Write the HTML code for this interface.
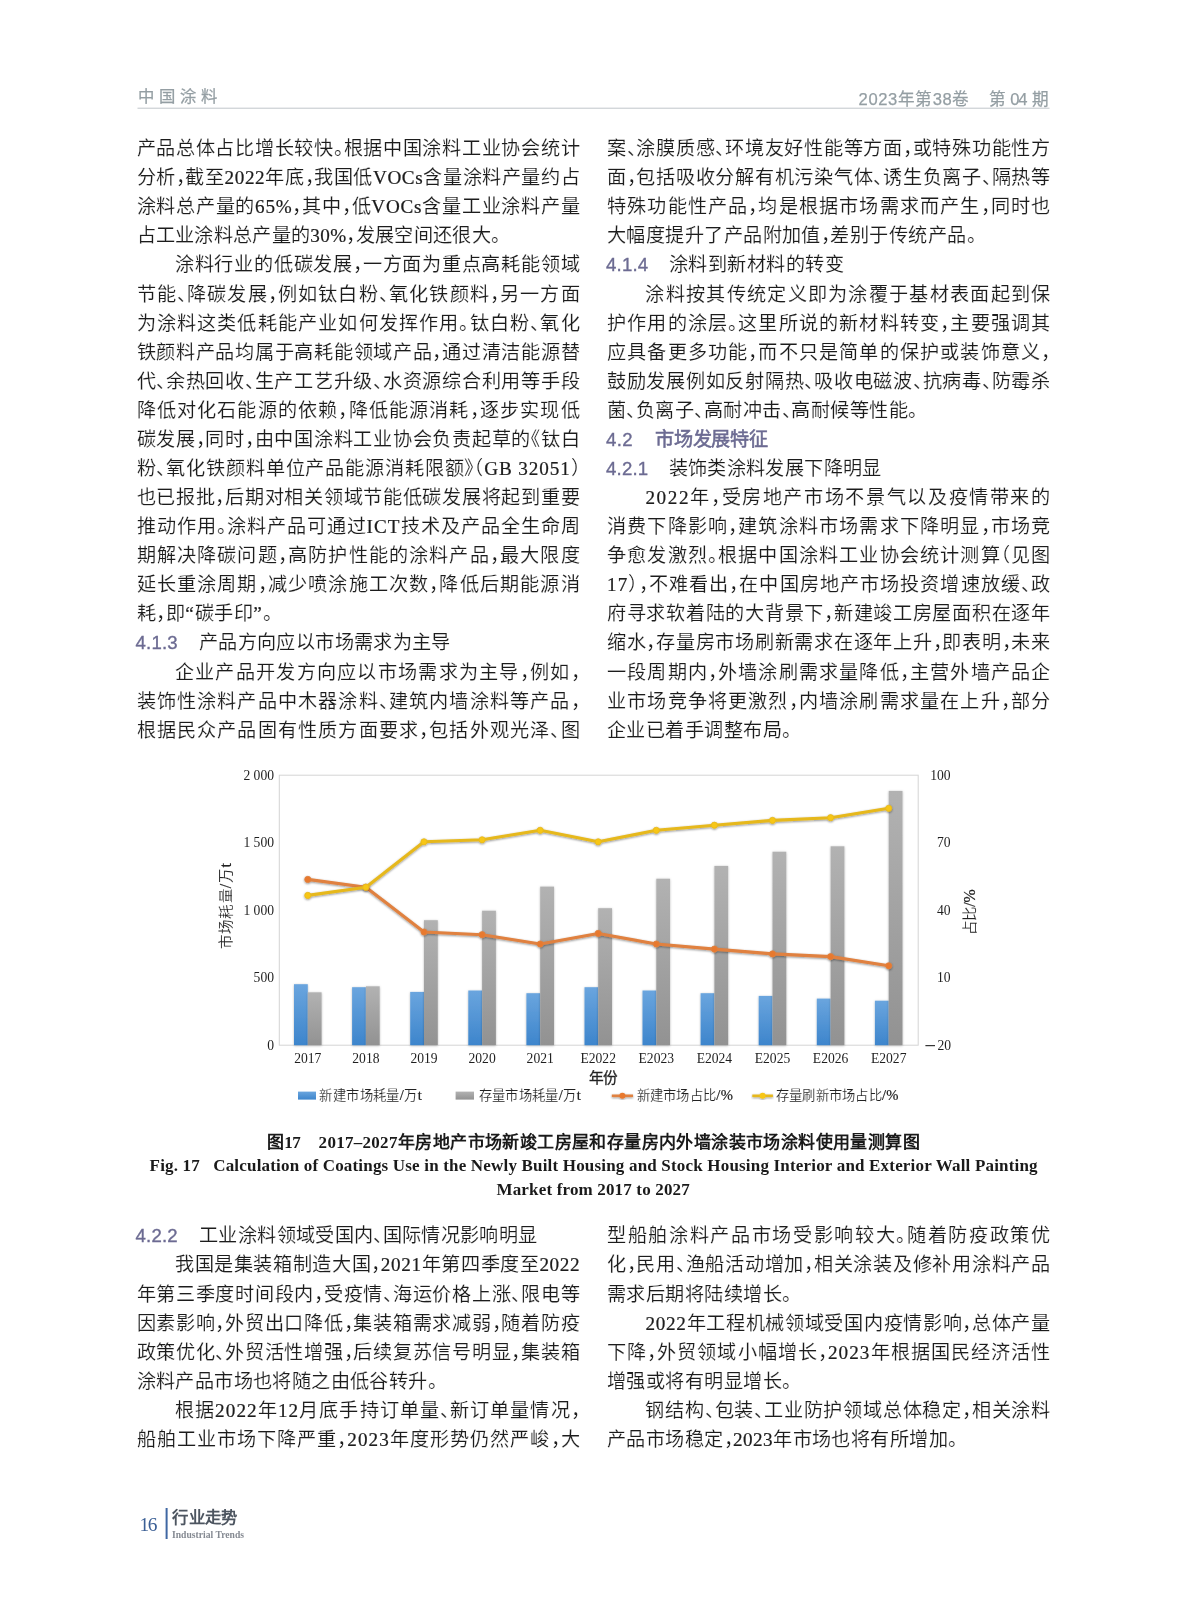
<!DOCTYPE html>
<html lang="zh-CN">
<head>
<meta charset="utf-8">
<title>中国涂料 2023年第38卷 第04期</title>
<style>
html,body{margin:0;padding:0;background:#fff;}
body{width:1187px;height:1600px;overflow:hidden;font-family:"Liberation Sans",sans-serif;}
.page{width:1187px;height:1600px;will-change:transform;}
svg{display:block;}
text{font-family:"Liberation Sans",sans-serif;fill:#1c1c1c;}
.b{font-size:19.17px;font-feature-settings:"halt";stroke:#fff;stroke-width:0.14px;}
.l{font-family:"Liberation Serif",serif;stroke:#1c1c1c;stroke-width:0.22px;}
.tc .l{font-size:1.1em;}
.hb{font-size:19.17px;font-family:"Liberation Sans",sans-serif;fill:#6c6b92;stroke:#6c6b92;stroke-width:0.55px;}
.hn{font-size:18.6px;font-family:"Liberation Sans",sans-serif;fill:#6c6b92;stroke:#6c6b92;stroke-width:0.35px;}
.t{font-family:"Liberation Serif",serif;font-size:13.6px;fill:#1e1e1e;}
.tc{font-size:13.3px;fill:#222;stroke:#fff;stroke-width:0.15px;}
.c1{font-size:17px;font-family:"Liberation Sans",sans-serif;font-weight:bold;fill:#1a1a1a;}
.c2{font-family:"Liberation Serif",serif;font-size:17px;font-weight:bold;fill:#1a1a1a;}
.hd{font-family:"Liberation Sans",sans-serif;fill:#949ea3;stroke:#949ea3;stroke-width:0.25px;}
</style>
</head>
<body>
<div class="page">
<svg width="1187" height="1600" viewBox="0 0 1187 1600">
<defs>
<linearGradient id="gb" x1="0" y1="0" x2="0" y2="1"><stop offset="0" stop-color="#6aa5de"/><stop offset="1" stop-color="#3d85cc"/></linearGradient>
<linearGradient id="gg" x1="0" y1="0" x2="0" y2="1"><stop offset="0" stop-color="#b2b2b2"/><stop offset="1" stop-color="#929292"/></linearGradient>
<filter id="sh" x="-30%" y="-5%" width="160%" height="110%"><feDropShadow dx="0" dy="0.6" stdDeviation="0.9" flood-color="#000" flood-opacity="0.28"/></filter>
<filter id="sh2" x="-5%" y="-20%" width="110%" height="140%"><feDropShadow dx="0" dy="0.9" stdDeviation="0.9" flood-color="#000" flood-opacity="0.45"/></filter>
</defs>
<!-- running header -->
<text class="hd" x="137.9" y="101.8" style="font-size:16.4px" textLength="78.8">中国涂料</text>
<text class="hd" x="858.6" y="104.7" style="font-size:16.6px" textLength="110.8">2023年第38卷</text>
<text class="hd" x="989.2" y="104.7" style="font-size:16.6px">第</text>
<text class="hd" x="1010.2" y="104.7" style="font-size:16.6px" textLength="17.2">04</text>
<text class="hd" x="1032.2" y="104.7" style="font-size:16.6px">期</text>
<rect x="137.5" y="107.6" width="912" height="1.3" fill="#cfd3d6"/>
<!-- body text -->
<text class="b" x="136.5" y="155.1" textLength="443.1">产品总体占比增长较快。根据中国涂料工业协会统计</text>
<text class="b" x="136.5" y="184.2" textLength="443.1">分析，截至<tspan class="l">2022</tspan>年底，我国低<tspan class="l">VOCs</tspan>含量涂料产量约占</text>
<text class="b" x="136.5" y="213.3" textLength="443.1">涂料总产量的<tspan class="l">65%</tspan>，其中，低<tspan class="l">VOCs</tspan>含量工业涂料产量</text>
<text class="b" x="136.5" y="242.3" textLength="363.5">占工业涂料总产量的<tspan class="l">30%</tspan>，发展空间还很大。</text>
<text class="b" x="174.9" y="271.4" textLength="404.7">涂料行业的低碳发展，一方面为重点高耗能领域</text>
<text class="b" x="136.5" y="300.5" textLength="443.1">节能、降碳发展，例如钛白粉、氧化铁颜料，另一方面</text>
<text class="b" x="136.5" y="329.6" textLength="443.1">为涂料这类低耗能产业如何发挥作用。钛白粉、氧化</text>
<text class="b" x="136.5" y="358.6" textLength="443.1">铁颜料产品均属于高耗能领域产品，通过清洁能源替</text>
<text class="b" x="136.5" y="387.7" textLength="443.1">代、余热回收、生产工艺升级、水资源综合利用等手段</text>
<text class="b" x="136.5" y="416.8" textLength="443.1">降低对化石能源的依赖，降低能源消耗，逐步实现低</text>
<text class="b" x="136.5" y="445.9" textLength="443.1">碳发展，同时，由中国涂料工业协会负责起草的《钛白</text>
<text class="b" x="136.5" y="474.9" textLength="443.1">粉、氧化铁颜料单位产品能源消耗限额》（<tspan class="l">GB 32051</tspan>）</text>
<text class="b" x="136.5" y="504.0" textLength="443.1">也已报批，后期对相关领域节能低碳发展将起到重要</text>
<text class="b" x="136.5" y="533.1" textLength="443.1">推动作用。涂料产品可通过<tspan class="l">ICT</tspan>技术及产品全生命周</text>
<text class="b" x="136.5" y="562.1" textLength="443.1">期解决降碳问题，高防护性能的涂料产品，最大限度</text>
<text class="b" x="136.5" y="591.2" textLength="443.1">延长重涂周期，减少喷涂施工次数，降低后期能源消</text>
<text class="b" x="136.5" y="620.3" textLength="135.0">耗，即<tspan class="l">“</tspan>碳手印<tspan class="l">”</tspan>。</text>
<text class="hn" x="135.6" y="649.1" textLength="42.0">4.1.3</text>
<text class="b" x="198.9" y="649.4" textLength="251.5">产品方向应以市场需求为主导</text>
<text class="b" x="174.9" y="678.5" textLength="404.7">企业产品开发方向应以市场需求为主导，例如，</text>
<text class="b" x="136.5" y="707.5" textLength="443.1">装饰性涂料产品中木器涂料、建筑内墙涂料等产品，</text>
<text class="b" x="136.5" y="736.6" textLength="443.1">根据民众产品固有性质方面要求，包括外观光泽、图</text>
<text class="b" x="607.0" y="155.1" textLength="443.1">案、涂膜质感、环境友好性能等方面，或特殊功能性方</text>
<text class="b" x="607.0" y="184.2" textLength="443.1">面，包括吸收分解有机污染气体、诱生负离子、隔热等</text>
<text class="b" x="607.0" y="213.3" textLength="443.1">特殊功能性产品，均是根据市场需求而产生，同时也</text>
<text class="b" x="607.0" y="242.3" textLength="368.5">大幅度提升了产品附加值，差别于传统产品。</text>
<text class="hn" x="606.1" y="271.1" textLength="42.0">4.1.4</text>
<text class="b" x="668.5" y="271.4" textLength="175.5">涂料到新材料的转变</text>
<text class="b" x="645.4" y="300.5" textLength="404.7">涂料按其传统定义即为涂覆于基材表面起到保</text>
<text class="b" x="607.0" y="329.6" textLength="443.1">护作用的涂层。这里所说的新材料转变，主要强调其</text>
<text class="b" x="607.0" y="358.6" textLength="443.1">应具备更多功能，而不只是简单的保护或装饰意义，</text>
<text class="b" x="607.0" y="387.7" textLength="443.1">鼓励发展例如反射隔热、吸收电磁波、抗病毒、防霉杀</text>
<text class="b" x="607.0" y="416.8" textLength="310.0">菌、负离子、高耐冲击、高耐候等性能。</text>
<text class="hn" x="606.1" y="445.6" textLength="26.4">4.2</text>
<text class="hb" x="654.6" y="445.9" textLength="113.8">市场发展特征</text>
<text class="hn" x="606.1" y="474.6" textLength="42.0">4.2.1</text>
<text class="b" x="668.5" y="474.9" textLength="212.8">装饰类涂料发展下降明显</text>
<text class="b" x="645.4" y="504.0" textLength="404.7"><tspan class="l">2022</tspan>年，受房地产市场不景气以及疫情带来的</text>
<text class="b" x="607.0" y="533.1" textLength="443.1">消费下降影响，建筑涂料市场需求下降明显，市场竞</text>
<text class="b" x="607.0" y="562.1" textLength="443.1">争愈发激烈。根据中国涂料工业协会统计测算（见图</text>
<text class="b" x="607.0" y="591.2" textLength="443.1"><tspan class="l">17</tspan>），不难看出，在中国房地产市场投资增速放缓、政</text>
<text class="b" x="607.0" y="620.3" textLength="443.1">府寻求软着陆的大背景下，新建竣工房屋面积在逐年</text>
<text class="b" x="607.0" y="649.4" textLength="443.1">缩水，存量房市场刷新需求在逐年上升，即表明，未来</text>
<text class="b" x="607.0" y="678.5" textLength="443.1">一段周期内，外墙涂刷需求量降低，主营外墙产品企</text>
<text class="b" x="607.0" y="707.5" textLength="443.1">业市场竞争将更激烈，内墙涂刷需求量在上升，部分</text>
<text class="b" x="607.0" y="736.6" textLength="184.0">企业已着手调整布局。</text>
<text class="hn" x="135.6" y="1242.0" textLength="42.0">4.2.2</text>
<text class="b" x="199.1" y="1242.3" textLength="338.0">工业涂料领域受国内、国际情况影响明显</text>
<text class="b" x="174.9" y="1271.4" textLength="404.7">我国是集装箱制造大国，<tspan class="l">2021</tspan>年第四季度至<tspan class="l">2022</tspan></text>
<text class="b" x="136.5" y="1300.5" textLength="443.1">年第三季度时间段内，受疫情、海运价格上涨、限电等</text>
<text class="b" x="136.5" y="1329.5" textLength="443.1">因素影响，外贸出口降低，集装箱需求减弱，随着防疫</text>
<text class="b" x="136.5" y="1358.6" textLength="443.1">政策优化、外贸活性增强，后续复苏信号明显，集装箱</text>
<text class="b" x="136.5" y="1387.7" textLength="300.0">涂料产品市场也将随之由低谷转升。</text>
<text class="b" x="174.9" y="1416.8" textLength="404.7">根据<tspan class="l">2022</tspan>年<tspan class="l">12</tspan>月底手持订单量、新订单量情况，</text>
<text class="b" x="136.5" y="1445.8" textLength="443.1">船舶工业市场下降严重，<tspan class="l">2023</tspan>年度形势仍然严峻，大</text>
<text class="b" x="607.0" y="1242.3" textLength="443.1">型船舶涂料产品市场受影响较大。随着防疫政策优</text>
<text class="b" x="607.0" y="1271.4" textLength="443.1">化，民用、渔船活动增加，相关涂装及修补用涂料产品</text>
<text class="b" x="607.0" y="1300.5" textLength="184.0">需求后期将陆续增长。</text>
<text class="b" x="645.4" y="1329.5" textLength="404.7"><tspan class="l">2022</tspan>年工程机械领域受国内疫情影响，总体产量</text>
<text class="b" x="607.0" y="1358.6" textLength="443.1">下降，外贸领域小幅增长，<tspan class="l">2023</tspan>年根据国民经济活性</text>
<text class="b" x="607.0" y="1387.7" textLength="184.0">增强或将有明显增长。</text>
<text class="b" x="645.4" y="1416.8" textLength="404.7">钢结构、包装、工业防护领域总体稳定，相关涂料</text>
<text class="b" x="607.0" y="1445.8" textLength="350.0">产品市场稳定，<tspan class="l">2023</tspan>年市场也将有所增加。</text>
<!-- chart -->
<rect x="279.3" y="775.2" width="638.9" height="270.0" fill="none" stroke="#d4d4d4" stroke-width="1"/>
<rect x="294.0" y="984.2" width="13.8" height="61.0" fill="url(#gb)" filter="url(#sh)"/>
<rect x="307.8" y="992.3" width="13.8" height="52.9" fill="url(#gg)" filter="url(#sh)"/>
<rect x="352.1" y="987.2" width="13.8" height="58.0" fill="url(#gb)" filter="url(#sh)"/>
<rect x="365.9" y="986.3" width="13.8" height="58.9" fill="url(#gg)" filter="url(#sh)"/>
<rect x="410.2" y="991.9" width="13.8" height="53.3" fill="url(#gb)" filter="url(#sh)"/>
<rect x="424.0" y="920.2" width="13.8" height="125.0" fill="url(#gg)" filter="url(#sh)"/>
<rect x="468.3" y="990.5" width="13.8" height="54.7" fill="url(#gb)" filter="url(#sh)"/>
<rect x="482.1" y="910.7" width="13.8" height="134.5" fill="url(#gg)" filter="url(#sh)"/>
<rect x="526.4" y="993.2" width="13.8" height="52.0" fill="url(#gb)" filter="url(#sh)"/>
<rect x="540.2" y="886.6" width="13.8" height="158.6" fill="url(#gg)" filter="url(#sh)"/>
<rect x="584.5" y="987.2" width="13.8" height="58.0" fill="url(#gb)" filter="url(#sh)"/>
<rect x="598.2" y="908.2" width="13.8" height="137.0" fill="url(#gg)" filter="url(#sh)"/>
<rect x="642.5" y="990.5" width="13.8" height="54.7" fill="url(#gb)" filter="url(#sh)"/>
<rect x="656.3" y="878.7" width="13.8" height="166.5" fill="url(#gg)" filter="url(#sh)"/>
<rect x="700.6" y="993.2" width="13.8" height="52.0" fill="url(#gb)" filter="url(#sh)"/>
<rect x="714.4" y="865.9" width="13.8" height="179.3" fill="url(#gg)" filter="url(#sh)"/>
<rect x="758.7" y="995.9" width="13.8" height="49.3" fill="url(#gb)" filter="url(#sh)"/>
<rect x="772.5" y="851.7" width="13.8" height="193.5" fill="url(#gg)" filter="url(#sh)"/>
<rect x="816.8" y="998.6" width="13.8" height="46.6" fill="url(#gb)" filter="url(#sh)"/>
<rect x="830.6" y="846.3" width="13.8" height="198.9" fill="url(#gg)" filter="url(#sh)"/>
<rect x="874.9" y="1000.7" width="13.8" height="44.5" fill="url(#gb)" filter="url(#sh)"/>
<rect x="888.7" y="790.9" width="13.8" height="254.3" fill="url(#gg)" filter="url(#sh)"/>
<g filter="url(#sh2)"><polyline points="307.8,879.4 365.9,887.2 424.0,932.0 482.1,934.7 540.2,944.0 598.2,933.4 656.3,944.0 714.4,949.1 772.5,953.9 830.6,956.6 888.7,965.8" fill="none" stroke="#e0813f" stroke-width="3.1" stroke-linejoin="round" stroke-linecap="round"/><circle cx="307.8" cy="879.4" r="3.1" fill="#e8792e" stroke="#e0813f" stroke-width="0.8"/><circle cx="365.9" cy="887.2" r="3.1" fill="#e8792e" stroke="#e0813f" stroke-width="0.8"/><circle cx="424.0" cy="932.0" r="3.1" fill="#e8792e" stroke="#e0813f" stroke-width="0.8"/><circle cx="482.1" cy="934.7" r="3.1" fill="#e8792e" stroke="#e0813f" stroke-width="0.8"/><circle cx="540.2" cy="944.0" r="3.1" fill="#e8792e" stroke="#e0813f" stroke-width="0.8"/><circle cx="598.2" cy="933.4" r="3.1" fill="#e8792e" stroke="#e0813f" stroke-width="0.8"/><circle cx="656.3" cy="944.0" r="3.1" fill="#e8792e" stroke="#e0813f" stroke-width="0.8"/><circle cx="714.4" cy="949.1" r="3.1" fill="#e8792e" stroke="#e0813f" stroke-width="0.8"/><circle cx="772.5" cy="953.9" r="3.1" fill="#e8792e" stroke="#e0813f" stroke-width="0.8"/><circle cx="830.6" cy="956.6" r="3.1" fill="#e8792e" stroke="#e0813f" stroke-width="0.8"/><circle cx="888.7" cy="965.8" r="3.1" fill="#e8792e" stroke="#e0813f" stroke-width="0.8"/></g>
<g filter="url(#sh2)"><polyline points="307.8,895.4 365.9,887.2 424.0,841.8 482.1,839.8 540.2,830.3 598.2,841.8 656.3,830.3 714.4,825.2 772.5,820.4 830.6,817.7 888.7,808.3" fill="none" stroke="#e6b81f" stroke-width="3.1" stroke-linejoin="round" stroke-linecap="round"/><circle cx="307.8" cy="895.4" r="3.1" fill="#f7c613" stroke="#e6b81f" stroke-width="0.8"/><circle cx="365.9" cy="887.2" r="3.1" fill="#f7c613" stroke="#e6b81f" stroke-width="0.8"/><circle cx="424.0" cy="841.8" r="3.1" fill="#f7c613" stroke="#e6b81f" stroke-width="0.8"/><circle cx="482.1" cy="839.8" r="3.1" fill="#f7c613" stroke="#e6b81f" stroke-width="0.8"/><circle cx="540.2" cy="830.3" r="3.1" fill="#f7c613" stroke="#e6b81f" stroke-width="0.8"/><circle cx="598.2" cy="841.8" r="3.1" fill="#f7c613" stroke="#e6b81f" stroke-width="0.8"/><circle cx="656.3" cy="830.3" r="3.1" fill="#f7c613" stroke="#e6b81f" stroke-width="0.8"/><circle cx="714.4" cy="825.2" r="3.1" fill="#f7c613" stroke="#e6b81f" stroke-width="0.8"/><circle cx="772.5" cy="820.4" r="3.1" fill="#f7c613" stroke="#e6b81f" stroke-width="0.8"/><circle cx="830.6" cy="817.7" r="3.1" fill="#f7c613" stroke="#e6b81f" stroke-width="0.8"/><circle cx="888.7" cy="808.3" r="3.1" fill="#f7c613" stroke="#e6b81f" stroke-width="0.8"/></g>
<text class="t" x="274" y="779.8" text-anchor="end">2 000</text>
<text class="t" x="274" y="847.3" text-anchor="end">1 500</text>
<text class="t" x="274" y="914.8" text-anchor="end">1 000</text>
<text class="t" x="274" y="982.3" text-anchor="end">500</text>
<text class="t" x="274" y="1049.8" text-anchor="end">0</text>
<text class="t" x="950.6" y="779.8" text-anchor="end">100</text>
<text class="t" x="950.6" y="847.3" text-anchor="end">70</text>
<text class="t" x="950.6" y="914.8" text-anchor="end">40</text>
<text class="t" x="950.6" y="982.3" text-anchor="end">10</text>
<rect x="925.4" y="1045.1" width="9.6" height="1.1" fill="#222"/><text class="t" x="951" y="1049.8" text-anchor="end">20</text>
<text class="t" x="307.8" y="1062.8" text-anchor="middle">2017</text>
<text class="t" x="365.9" y="1062.8" text-anchor="middle">2018</text>
<text class="t" x="424.0" y="1062.8" text-anchor="middle">2019</text>
<text class="t" x="482.1" y="1062.8" text-anchor="middle">2020</text>
<text class="t" x="540.2" y="1062.8" text-anchor="middle">2021</text>
<text class="t" x="598.2" y="1062.8" text-anchor="middle">E2022</text>
<text class="t" x="656.3" y="1062.8" text-anchor="middle">E2023</text>
<text class="t" x="714.4" y="1062.8" text-anchor="middle">E2024</text>
<text class="t" x="772.5" y="1062.8" text-anchor="middle">E2025</text>
<text class="t" x="830.6" y="1062.8" text-anchor="middle">E2026</text>
<text class="t" x="888.7" y="1062.8" text-anchor="middle">E2027</text>
<text class="tc" style="font-size:14.7px;stroke:#222;stroke-width:0.3px" x="603.5" y="1083" text-anchor="middle" textLength="29.4">年份</text>
<text class="tc" style="font-size:14.5px" transform="translate(230.5,906) rotate(-90)" text-anchor="middle" textLength="85.7">市场耗量<tspan class="l">/</tspan>万<tspan class="l">t</tspan></text>
<text class="tc" style="font-size:14.5px" transform="translate(975.3,912) rotate(-90)" text-anchor="middle" textLength="45.8">占比<tspan class="l">/%</tspan></text>
<rect x="298" y="1091.6" width="18" height="8" fill="url(#gb)"/>
<text class="tc" x="319.3" y="1100.4" textLength="102.5">新建市场耗量<tspan class="l">/</tspan>万<tspan class="l">t</tspan></text>
<rect x="455.6" y="1091.6" width="18.4" height="8" fill="url(#gg)"/>
<text class="tc" x="478.5" y="1100.4" textLength="102.3">存量市场耗量<tspan class="l">/</tspan>万<tspan class="l">t</tspan></text>
<g filter="url(#sh2)"><line x1="611.8" y1="1095.8" x2="633" y2="1095.8" stroke="#e0813f" stroke-width="2.6"/><circle cx="622.4" cy="1095.8" r="3" fill="#e8792e"/></g>
<text class="tc" x="636.6" y="1100.4" textLength="96.3">新建市场占比<tspan class="l">/%</tspan></text>
<g filter="url(#sh2)"><line x1="752.3" y1="1095.8" x2="772.9" y2="1095.8" stroke="#e6b81f" stroke-width="2.6"/><circle cx="762.6" cy="1095.8" r="3" fill="#f7c613"/></g>
<text class="tc" x="775.7" y="1100.4" textLength="122.8">存量刷新市场占比<tspan class="l">/%</tspan></text>
<!-- caption -->
<text class="c1" x="267.1" y="1147.6">图</text>
<text class="c2" x="284.2" y="1147.6" textLength="16.6">17</text>
<text class="c2" x="318.6" y="1147.6" textLength="78.8">2017–2027</text>
<text class="c1" x="397.9" y="1147.6" textLength="521.6">年房地产市场新竣工房屋和存量房内外墙涂装市场涂料使用量测算图</text>
<text class="c2" x="149.6" y="1171.2" textLength="888" xml:space="preserve">Fig. 17   Calculation of Coatings Use in the Newly Built Housing and Stock Housing Interior and Exterior Wall Painting</text>
<text class="c2" x="496.5" y="1194.6" textLength="193.2">Market from 2017 to 2027</text>
<!-- footer -->
<text x="139.6" y="1531.2" style="font-family:'Liberation Serif',serif;font-size:19.4px;fill:#3b5f95" textLength="17.8">16</text>
<rect x="165.6" y="1508" width="2" height="31" fill="#3f67a3"/>
<text x="172.4" y="1522.7" style="font-family:'Liberation Sans',sans-serif;font-size:16.4px;font-weight:bold;fill:#4d5560" textLength="65">行业走势</text>
<text x="172" y="1537.5" style="font-family:'Liberation Serif',serif;font-size:9.6px;font-weight:bold;fill:#858a92" textLength="72">Industrial Trends</text>
</svg>
</div>
</body>
</html>
